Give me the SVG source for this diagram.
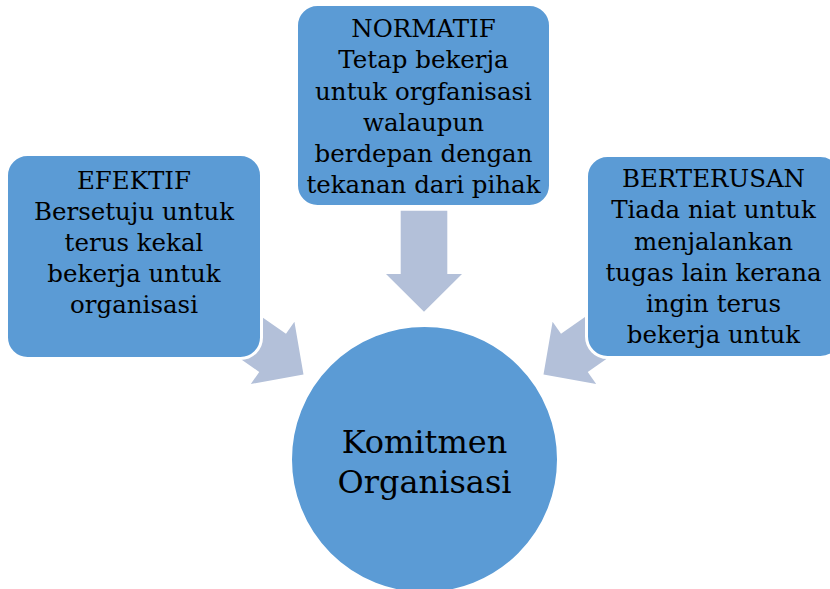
<svg xmlns="http://www.w3.org/2000/svg" width="830" height="589" viewBox="0 0 830 589">
  <defs>
    <style>
      .box { fill: #5B9BD5; stroke: #FFFFFF; stroke-width: 3; }
      .arrow { fill: #B3C0D9; }
      .t { font-family: "DejaVu Serif", "Liberation Serif", serif; font-size: 24.5px; fill: #000000; text-anchor: middle; }
      .big { font-family: "DejaVu Serif", "Liberation Serif", serif; font-size: 32px; fill: #000000; text-anchor: middle; }
    </style>
    <polygon id="arr" points="-101,-23.3 -37.7,-23.3 -37.7,-38 0,0 -37.7,38 -37.7,23.3 -101,23.3"/>
  </defs>
  <rect width="830" height="589" fill="#FFFFFF"/>

  <g id="connectors">
    <use href="#arr" class="arrow" transform="translate(424,311.7) rotate(90)"/>
    <use href="#arr" class="arrow" transform="translate(303.5,374.5) rotate(35)"/>
    <use href="#arr" class="arrow" transform="translate(543.5,374.5) rotate(145)"/>
  </g>

  <g id="node-efektif">
    <rect class="box" x="6.5" y="154.5" width="255" height="204" rx="21"/>
    <text class="t" x="134" y="189">EFEKTIF</text>
    <text class="t" x="134" y="220">Bersetuju untuk</text>
    <text class="t" x="134" y="251">terus kekal</text>
    <text class="t" x="134" y="282">bekerja untuk</text>
    <text class="t" x="134" y="313">organisasi</text>
  </g>

  <g id="node-normatif">
    <rect class="box" x="296.5" y="4.5" width="254" height="202" rx="21"/>
    <text class="t" x="423.5" y="37.3">NORMATIF</text>
    <text class="t" x="423.5" y="68.4">Tetap bekerja</text>
    <text class="t" x="423.5" y="99.5">untuk orgfanisasi</text>
    <text class="t" x="423.5" y="130.6">walaupun</text>
    <text class="t" x="423.5" y="161.7">berdepan dengan</text>
    <text class="t" x="423.5" y="192.8">tekanan dari pihak</text>
  </g>

  <g id="node-berterusan">
    <rect class="box" x="586.5" y="155.5" width="255" height="202" rx="21"/>
    <text class="t" x="713.5" y="187.3">BERTERUSAN</text>
    <text class="t" x="713.5" y="218.4">Tiada niat untuk</text>
    <text class="t" x="713.5" y="249.5">menjalankan</text>
    <text class="t" x="713.5" y="280.6">tugas lain kerana</text>
    <text class="t" x="713.5" y="311.7">ingin terus</text>
    <text class="t" x="713.5" y="342.8">bekerja untuk</text>
  </g>

  <g id="node-komitmen">
    <circle class="box" cx="424.5" cy="459.5" r="134"/>
    <text class="big" x="424.5" y="453.3">Komitmen</text>
    <text class="big" x="424.5" y="493.3">Organisasi</text>
  </g>
</svg>
